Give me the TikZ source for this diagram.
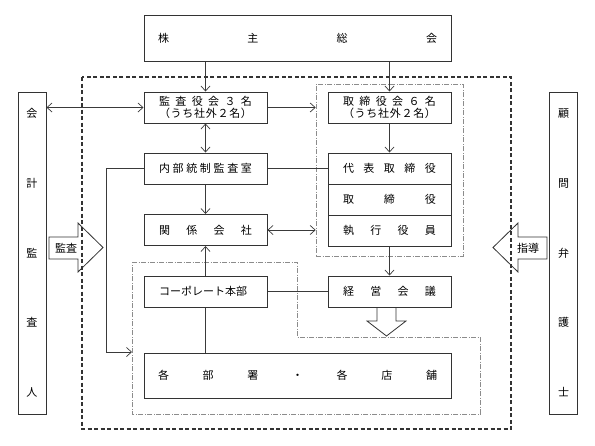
\documentclass[tikz,border=0pt]{standalone}
\usepackage{fontspec}
\setmainfont{Noto Sans CJK JP}
\usetikzlibrary{arrows.meta}
\definecolor{boxc}{HTML}{333333}
\definecolor{linec}{HTML}{3A3A3A}
\definecolor{ddc}{HTML}{8C8C8C}
\newcommand{\spread}[2][93pt]{\makebox[#1][s]{#2}}
\begin{document}
\begin{tikzpicture}[x=1pt,y=-1pt,
  box/.style={draw=boxc,line width=1pt,inner sep=0pt,minimum width=123pt,minimum height=31pt,
    font=\fontsize{11}{12.5}\selectfont,align=center,text=black},
  sidebox/.style={draw=boxc,line width=1pt,inner sep=0pt,minimum width=28pt,minimum height=322pt,
    font=\fontsize{11}{69.75}\selectfont,align=center},
  conn/.style={draw=linec,line width=0.7pt},
  tip/.tip={Straight Barb[length=5pt,width=9pt,line width=0.7pt]},
  arr/.style={conn,-tip},
  darr/.style={conn,tip-tip},
  ddbox/.style={draw=ddc,line width=0.6pt,dash pattern=on 5pt off 1.5pt on 1pt off 1.5pt},
  outer/.style={draw=boxc,line width=1.1pt,dash pattern=on 4pt off 2.5pt},
  blockarr/.style={draw=boxc,line width=0.8pt,line join=miter},
  arrtext/.style={font=\fontsize{11}{12}\selectfont,inner sep=0pt}
]
\useasboundingbox (0,0) rectangle (595,445);

% dash-dot groups
\node[ddbox,minimum width=147pt,minimum height=172pt,inner sep=0pt] (grp) at (389.5,170) {};
\draw[ddbox] (132,262) -- (297,262) -- (297,337) -- (480,337) -- (480,414) -- (132,414) -- cycle;
\coordinate (lowleft) at (132,352);

% outer dashed box
\draw[outer] (82,77) rectangle (511,429);

% nodes
\node[box,minimum width=307pt,minimum height=46pt] (shu) at (297.5,38.5) {\spread[279pt]{株\hfil 主\hfil 総\hfil 会}};
\node[box] (kansa) at (205.5,107.5) {\spread{監\hfil 査\hfil 役\hfil 会\hfil ３\hfil 名}\\\spread{（\hfil う\hfil ち\hfil 社\hfil 外\hfil ２\hfil 名\hfil ）}};
\node[box] (torikai) at (389.5,107.5) {\spread{取\hfil 締\hfil 役\hfil 会\hfil ６\hfil 名}\\\spread{（\hfil う\hfil ち\hfil 社\hfil 外\hfil ２\hfil 名\hfil ）}};
\node[box] (naibu) at (205.5,168.5) {\spread{内\hfil 部\hfil 統\hfil 制\hfil 監\hfil 査\hfil 室}};
\node[box] (daihyo) at (389.5,168.5) {\spread{代\hfil 表\hfil 取\hfil 締\hfil 役}};
\node[box] (tori) at (389.5,199.5) {\spread{取\hfil 締\hfil 役}};
\node[box] (shikko) at (389.5,230.5) {\spread{執\hfil 行\hfil 役\hfil 員}};
\node[box] (kankei) at (205.5,230) {\spread{関\hfil 係\hfil 会\hfil 社}};
\node[box] (corp) at (205.5,291.5) {\spread{コーポレート本部}};
\node[box] (keiei) at (389.5,291.5) {\spread{経\hfil 営\hfil 会\hfil 議}};
\node[box,minimum width=307pt,minimum height=45pt] (kakubu) at (297.5,375.5) {\spread[279pt]{各\hfil 部\hfil 署\hfil ・\hfil 各\hfil 店\hfil 舗}};

\node[sidebox] (kaikei) at (32,253) {会\\計\\監\\査\\人};
\node[sidebox] (komon) at (563.5,253) {顧\\問\\弁\\護\\士};

% block arrows
\draw[blockarr] (78,237) -- (49,237) -- (49,259) -- (78,259) -- (78,272) -- (103,247.5) -- (78,223) -- cycle;
\node[arrtext] (kansatxt) at (66,248) {監査};
\draw[blockarr] (518,237) -- (547,237) -- (547,259) -- (518,259) -- (518,272) -- (493,247.5) -- (518,223) -- cycle;
\node[arrtext] (shidotxt) at (528,248) {指導};
\draw[blockarr] (377,307) -- (377,321) -- (367,321) -- (386.5,336) -- (406,321) -- (396,321) -- (396,307);

% connectors
\draw[arr] (shu.south -| kansa.north) -- (kansa.north);
\draw[arr] (shu.south -| torikai.north) -- (torikai.north);
\draw[darr] (kaikei.east |- kansa.west) -- (kansa.west);
\draw[arr] (kansa.east) -- (kansa.east -| grp.west);
\draw[darr] (kansa.south) -- (naibu.north);
\draw[arr] (torikai.south) -- (daihyo.north);
\draw[conn] (naibu.east) -- (daihyo.west);
\draw[arr] (naibu.south) -- (kankei.north);
\draw[darr] (kankei.east) -- (kankei.east -| grp.west);
\draw[arr] (naibu.west) -- ++(-37,0) |- (lowleft);
\draw[arr] (corp.north) -- (kankei.south);
\draw[conn] (corp.south) -- (kakubu.north -| corp.south);
\draw[conn] (corp.east) -- (keiei.west);
\draw[arr] (shikko.south) -- (keiei.north);
\end{tikzpicture}
\end{document}
